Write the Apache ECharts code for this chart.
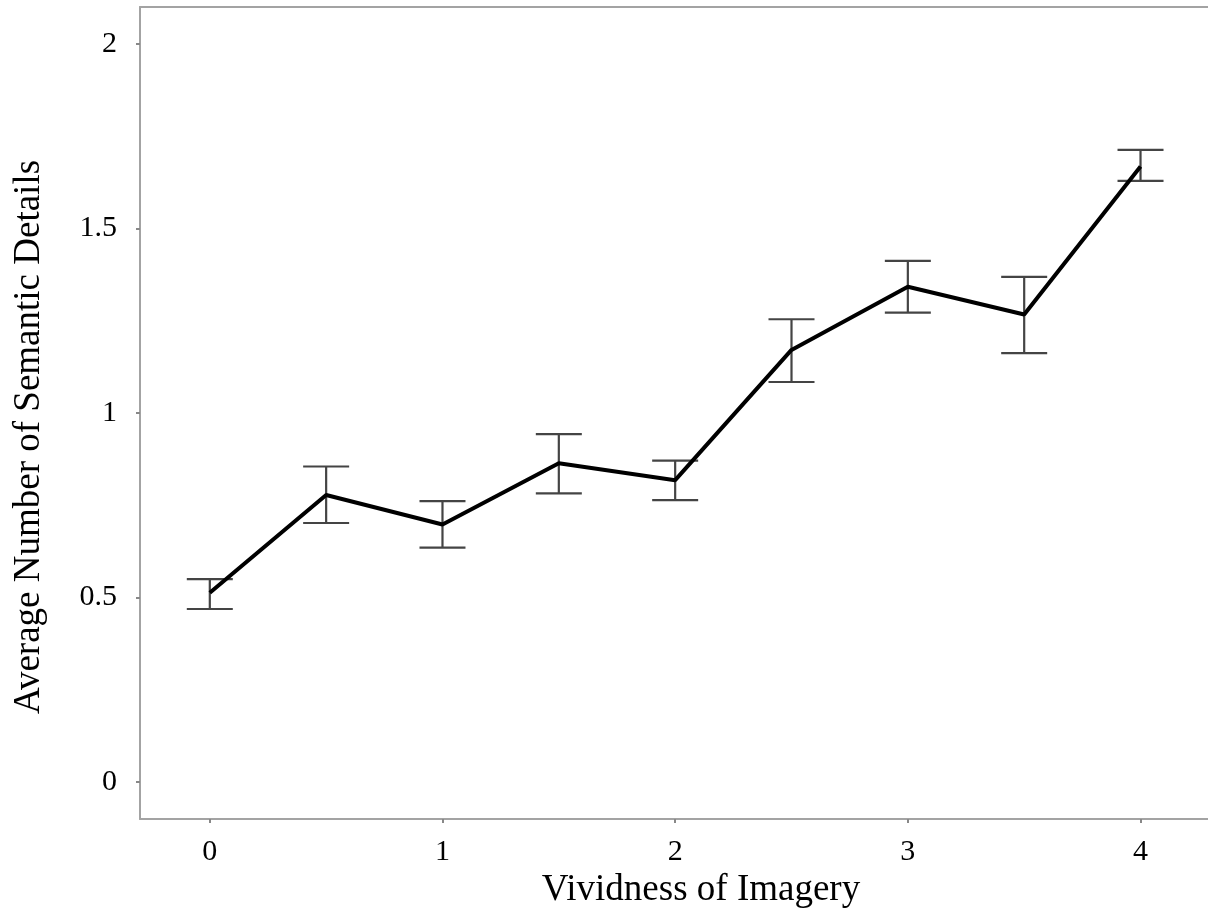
<!DOCTYPE html>
<html>
<head>
<meta charset="utf-8">
<script src="https://cdn.jsdelivr.net/npm/echarts@6/dist/echarts.min.js"></script>
<style>
  html, body { margin: 0; padding: 0; background: #fff; }
  #chart { width: 1208px; height: 921px; }
</style>
</head>
<body>
<div id="chart"></div>
<script>
// Vividness of imagery levels and mean semantic details with error bounds
const vividness = [0, 0.5, 1, 1.5, 2, 2.5, 3, 3.5, 4];
const meanDetails = [0.513, 0.778, 0.698, 0.864, 0.818, 1.171, 1.342, 1.267, 1.668];
const upperBound = [0.550, 0.855, 0.761, 0.943, 0.871, 1.254, 1.412, 1.369, 1.713];
const lowerBound = [0.469, 0.702, 0.635, 0.782, 0.764, 1.084, 1.272, 1.162, 1.629];
const xTicks = [0, 1, 2, 3, 4];
const yTicks = [0, 0.5, 1, 1.5, 2];

const lineData = vividness.map((x, i) => [x, meanDetails[i]]);
const errorData = vividness.map((x, i) => [x, lowerBound[i], upperBound[i]]);

const font = 'Liberation Serif, Times New Roman, serif';
const frameLine = { show: true, onZero: false, lineStyle: { color: '#a3a3a3', width: 2 } };
const chart = echarts.init(document.getElementById('chart'), null, { renderer: 'canvas' });

chart.setOption({
  animation: false,
  backgroundColor: '#ffffff',
  grid: { left: 140, right: 0, top: 7, bottom: 102 },
  xAxis: [
    {
      type: 'value', min: -0.3, max: 4.29, position: 'bottom',
      name: 'Vividness of Imagery', nameLocation: 'middle', nameGap: 47,
      nameTextStyle: { fontFamily: font, fontSize: 37, color: '#000', padding: [0, 0, 0, 54] },
      axisLine: frameLine,
      axisTick: { show: true, customValues: xTicks, length: 4, lineStyle: { color: '#888', width: 2 } },
      axisLabel: { customValues: xTicks, fontFamily: font, fontSize: 30, color: '#000', margin: 18 },
      splitLine: { show: false }
    },
    {
      // top edge of the frame
      type: 'value', min: -0.3, max: 4.29, position: 'top',
      axisLine: frameLine,
      axisTick: { show: false }, axisLabel: { show: false }, splitLine: { show: false }
    }
  ],
  yAxis: {
    type: 'value', min: -0.1, max: 2.1,
    name: 'Average Number of Semantic Details', nameLocation: 'middle', nameGap: 92,
    nameTextStyle: { fontFamily: font, fontSize: 37, color: '#000', padding: [0, 48, 0, 0] },
    axisLine: frameLine,
    axisTick: { show: true, customValues: yTicks, length: 4, lineStyle: { color: '#888', width: 2 } },
    axisLabel: { customValues: yTicks, fontFamily: font, fontSize: 30, color: '#000', margin: 23 },
    splitLine: { show: false }
  },
  series: [
    {
      type: 'custom',
      z: 2,
      data: errorData,
      encode: { x: 0, y: [1, 2] },
      renderItem: function (params, api) {
        const x = api.value(0);
        const lo = api.coord([x, api.value(1)]);
        const hi = api.coord([x, api.value(2)]);
        const half = 23;
        const style = { stroke: '#444', lineWidth: 2.2 };
        return {
          type: 'group',
          children: [
            { type: 'line', shape: { x1: lo[0], y1: lo[1], x2: hi[0], y2: hi[1] }, style: style },
            { type: 'line', shape: { x1: hi[0] - half, y1: hi[1], x2: hi[0] + half, y2: hi[1] }, style: style },
            { type: 'line', shape: { x1: lo[0] - half, y1: lo[1], x2: lo[0] + half, y2: lo[1] }, style: style }
          ]
        };
      }
    },
    {
      type: 'line',
      z: 3,
      data: lineData,
      showSymbol: false,
      symbol: 'none',
      lineStyle: { color: '#000', width: 4 }
    }
  ]
});
</script>
</body>
</html>
